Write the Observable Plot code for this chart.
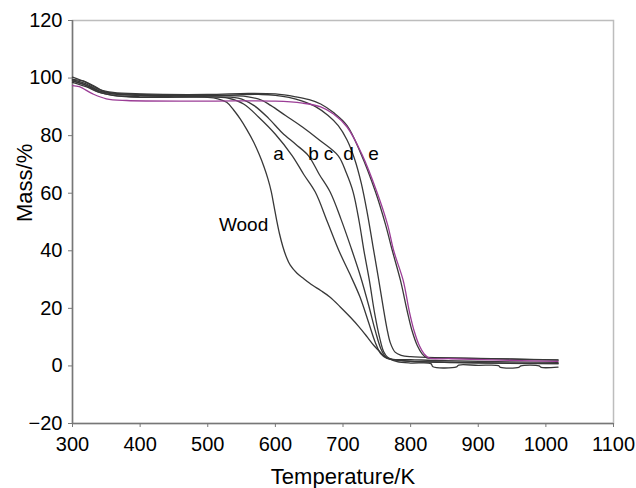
<!DOCTYPE html>
<html><head><meta charset="utf-8">
<script src="https://cdn.jsdelivr.net/npm/d3@7"></script>
<script src="https://cdn.jsdelivr.net/npm/@observablehq/plot@0.6"></script>
<style>body{margin:0;background:#fff}#chart svg{display:block}</style>
</head><body><div id="chart"></div>
<script>
// Thermogravimetric curves: temperature (K) vs mass (%)
const woodT = [300,315,330,345,360,400,450,500,515,528,538,548,558,568,576,583,589,594,598,602,606,611,616,622,632,642,655,667,681,696,711,724,736,746,755,762,768,780,800,830,833,868,871,900,930,933,960,963,990,993,1018];
const woodM = [99.5,99,97.5,95.5,94.5,94,93.5,93.3,92.8,91.6,89,85.8,82,77.7,73.5,69.3,65,60.5,55.5,50.5,46,41.5,38,35,32.2,30.3,28,26.2,23.9,20.5,16.9,13.5,10,7,4.8,3.2,2.5,1.5,1.0,0.8,-0.3,-0.3,0.3,0.2,0.1,-0.5,-0.5,0,0,-0.5,-0.4];
const aT = [300,320,340,360,400,450,500,530,553,575,600,625,642,659,677,694,710,725,738,748,756,765,780,800,850,900,1018];
const aM = [99,97.5,95,94,93.5,93.5,93.5,93,91,86.5,80.5,73,66.5,60.4,50,40,32,24,15,8,4.2,2.6,2,1.6,1.3,1.1,0.8];
const bT = [300,320,340,360,400,500,545,568,590,610,630,649,665,681,697,712,726,738,748,756,763,770,790,850,1018];
const bM = [98.5,97,95,94,93.3,93.5,93,90.5,86,81,77,73,66.5,60.4,51,41,31,21,12,6,3.2,2.4,1.8,1.2,0.8];
const cT = [300,320,340,360,400,500,560,580,593,615,640,665,693,705,715,724,731,739,747,754,760,766,772,800,850,1018];
const cM = [99,97.5,95.5,94.5,94,94,93.5,92.3,90.5,87,83,78.5,73,67,60.4,50,40,29.7,18,10,5,3,2.4,2.2,1.8,1.2];
const dT = [300,320,340,360,400,500,580,600,620,640,660,678,693,706,717,727,736,744,752,759,765,770,777,786,800,850,950,1018];
const dM = [99.5,98,95.5,94.8,94.3,94,94.3,94,93.3,92,90,87,83.5,78.5,72,63.5,53,42,31,21,13,8,4.8,3.7,3.2,2.8,2.4,2.1];
const eT = [300,320,340,360,400,500,560,600,630,650,667,686,706,726,748,763,773,785,795,802,810,817,824,840,900,960,1018];
const eM = [100.3,98.5,96,95,94.5,94.3,94.7,94.5,93.5,92.5,91,88,83.5,74,60.5,49,40,29.7,19,12.3,7,4.2,2.8,2.8,2.6,2.3,2.0];
const pT = [300,310,330,350,380,500,600,640,667,686,706,728,750,766,775,789,798,805,813,820,827,860,920,1018];
const pM = [97.4,97,94.5,92.8,92.2,92,92,91.3,90,87.5,83,73.5,60.5,49,40,29.7,19,12.3,7,4.2,2.8,2.5,2.1,1.6];

const seriesIds = ["Wood","a","b","c","d","e","e2"];
const seriesT = [woodT,aT,bT,cT,dT,eT,pT];
const seriesM = [woodM,aM,bM,cM,dM,eM,pM];

const labelText = ["Wood","a","b","c","d","e"];
const labelT = [553,604.6,656.4,678.6,708.1,745.1];
const labelM = [47,71.4,71.4,71.4,71.4,71.4];

const xTicks = [300,400,500,600,700,800,900,1000,1100];
const yTicks = [-20,0,20,40,60,80,100,120];

const rows = seriesIds.flatMap((id,i) => seriesT[i].map((t,j) => ({id, T:t, M:seriesM[i][j]})));
const labels = labelText.map((s,i) => ({s, T:labelT[i], M:labelM[i]}));

const font = "'Liberation Sans', Arial, sans-serif";
const fmt = d => d < 0 ? "\u2212" + Math.abs(d) : String(d);
const chart = Plot.plot({
  width: 636, height: 488,
  marginLeft: 72, marginRight: 23, marginTop: 20, marginBottom: 65,
  style: {fontFamily: font, fontSize: "20px", background: "#fff", color: "#000"},
  x: {domain: [300,1100]},
  y: {domain: [-20,120]},
  marks: [
    Plot.frame({stroke: "#bdbdbd", strokeWidth: 1.5}),
    Plot.ruleX([300], {stroke: "#777", strokeWidth: 1.5}),
    Plot.ruleY([-20], {stroke: "#777", strokeWidth: 1.5}),
    Plot.axisX({ticks: xTicks, tickFormat: fmt, tickSize: 4, tickPadding: 9, stroke: "#777", label: null, fontSize: 20}),
    Plot.axisY({ticks: yTicks, tickFormat: fmt, tickSize: 4, tickPadding: 6, stroke: "#777", label: null, fontSize: 20}),
    Plot.line(rows.filter(d => d.id !== "e2"), {x: "T", y: "M", z: "id", stroke: "#383838", strokeWidth: 1.3, curve: "catmull-rom"}),
    Plot.line(rows.filter(d => d.id === "e2"), {x: "T", y: "M", z: "id", stroke: "#9b3d96", strokeWidth: 1.3, curve: "catmull-rom"}),
    Plot.text(labels, {x: "T", y: "M", text: "s", lineAnchor: "bottom", fontSize: 19, fill: "#000"}),
    Plot.text(["Temperature/K"], {frameAnchor: "bottom", dy: 60, lineAnchor: "bottom", fontSize: 22, fill: "#000"}),
    Plot.text(["Mass/%"], {frameAnchor: "left", dx: -41, rotate: -90, lineAnchor: "bottom", fontSize: 22, fill: "#000"})
  ]
});
document.getElementById("chart").append(chart);
</script>
</body></html>
